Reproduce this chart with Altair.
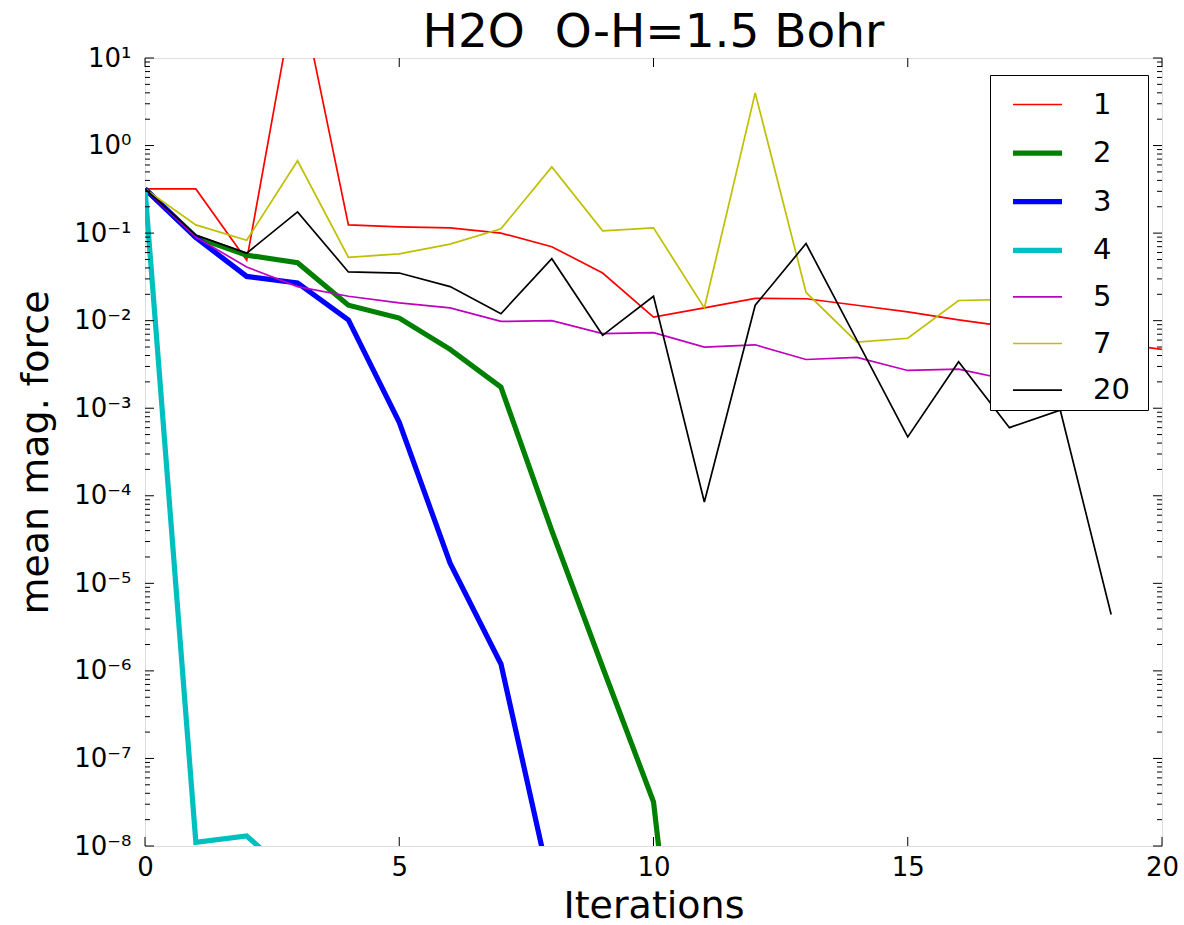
import altair as alt
import pandas as pd

# ---- data ----
runs = ["1", "2", "3", "4", "5", "7", "20"]
colors = ["#ff0000", "#008000", "#0000ff", "#00bfbf", "#bf00bf", "#bfbf00", "#000000"]
widths = [1.7, 5.2, 5.2, 5.2, 1.7, 1.7, 1.7]

s1 = [0.32, 0.32, 0.049, 80, 0.124, 0.118, 0.115, 0.10, 0.070, 0.035, 0.011,
      0.014, 0.018, 0.0178, 0.015, 0.0126, 0.0102, 0.0085, 0.0069, 0.0056, 0.0047]
s2 = [0.32, 0.09, 0.056, 0.046, 0.015, 0.0107, 0.0047, 0.00174, 4e-5, 1.1e-6,
      3.2e-8, 3e-13]
s3 = [0.32, 0.089, 0.032, 0.027, 0.0102, 6.9e-4, 1.7e-5, 1.2e-6, 3e-9]
s4 = [0.32, 1.1e-8, 1.3e-8, 4e-9]
s5 = [0.32, 0.09, 0.041, 0.0245, 0.019, 0.016, 0.014, 0.0098, 0.010, 0.0071,
      0.0073, 0.005, 0.0053, 0.0036, 0.0038, 0.0027, 0.0028, 0.0021, 0.0018]
s7 = [0.32, 0.124, 0.083, 0.67, 0.053, 0.058, 0.075, 0.112, 0.57, 0.106, 0.115,
      0.014, 4.0, 0.021, 0.0057, 0.0063, 0.017, 0.0175, 0.016]
s20 = [0.32, 0.095, 0.059, 0.175, 0.036, 0.035, 0.0245, 0.012, 0.051, 0.0068,
       0.019, 8.5e-5, 0.015, 0.076, 0.006, 4.7e-4, 0.0034, 6e-4, 9.5e-4, 4.4e-6]
series = [s1, s2, s3, s4, s5, s7, s20]

x_ticks = [0, 5, 10, 15, 20]
y_major = [1e-8, 1e-7, 1e-6, 1e-5, 1e-4, 1e-3, 1e-2, 1e-1, 1, 10]
y_labels = ["10⁻⁸", "10⁻⁷", "10⁻⁶", "10⁻⁵", "10⁻⁴", "10⁻³", "10⁻²", "10⁻¹", "10⁰", "10¹"]
y_minor = [k * 10.0 ** e for e in range(-8, 1) for k in range(2, 10)]

rows = []
for name, vals in zip(runs, series):
    for i, v in enumerate(vals):
        rows.append({"iter": i, "force": v, "run": name})
df = pd.DataFrame(rows)

W, H = 1017, 788
FONT = "DejaVu Sans"

xscale = alt.Scale(domain=[0, 20], nice=False, zero=False)
yscale = alt.Scale(type="log", domain=[1e-8, 10], nice=False)

label_expr = "[" + ",".join("'%s'" % s for s in y_labels) + "][round(log(datum.value)/LN10)+8]"

xaxis = alt.Axis(values=x_ticks, format="d", ticks=False, grid=False, domain=False,
                 labelFlush=False, labelOverlap=False,
                 labelFontSize=26, labelFont=FONT, labelColor="black", labelPadding=8,
                 title="Iterations", titleFontSize=38, titleFont=FONT,
                 titleFontWeight="normal", titleColor="black", titlePadding=7)
yaxis = alt.Axis(values=y_major, labelExpr=label_expr, ticks=False, grid=False,
                 domain=False, labelFlush=False, labelOverlap=False,
                 labelFontSize=26, labelFont=FONT, labelColor="black",
                 labelPadding=14, title="mean mag. force", titleFontSize=38,
                 titleFont=FONT, titleFontWeight="normal", titleColor="black",
                 titlePadding=18)

legend = alt.Legend(
    title="\u2800", titleOrient="right", titleFontSize=13, titlePadding=4,
    orient="none", legendX=845, legendY=17,
    symbolType="stroke", symbolSize=2401, symbolOffset=16,
    padding=4, rowPadding=5.6, labelFontSize=29, labelFont=FONT,
    labelOffset=28, labelColor="black",
    strokeColor="black", fillColor="white", cornerRadius=0,
)

lines = alt.Chart(df).mark_line(clip=True).encode(
    x=alt.X("iter:Q", scale=xscale, axis=xaxis),
    y=alt.Y("force:Q", scale=yscale, axis=yaxis),
    color=alt.Color("run:N", scale=alt.Scale(domain=runs, range=colors), legend=legend),
    strokeWidth=alt.StrokeWidth("run:N", scale=alt.Scale(type="ordinal", domain=runs, range=widths),
                                legend=legend),
    order=alt.Order("iter:Q"),
)

def yticks(vals, x0, x1):
    return alt.Chart(pd.DataFrame({"force": vals})).mark_rule(color="black", strokeWidth=1).encode(
        y=alt.Y("force:Q", scale=yscale, axis=yaxis), x=alt.value(x0), x2=alt.value(x1))

def xticks(vals, y0, y1):
    return alt.Chart(pd.DataFrame({"iter": vals})).mark_rule(color="black", strokeWidth=1).encode(
        x=alt.X("iter:Q", scale=xscale, axis=xaxis), y=alt.value(y0), y2=alt.value(y1))

chart = alt.layer(
    lines,
    yticks(y_major, 0, 9), yticks(y_minor, 0, 5),
    yticks(y_major, W, W - 9), yticks(y_minor, W, W - 5),
    xticks(x_ticks, H, H - 9), xticks(x_ticks, 0, 9),
).properties(
    width=W, height=H,
    title=alt.Title("H2O\u00a0 O-H=1.5 Bohr", fontSize=47, font=FONT, fontWeight="normal",
                    color="black", offset=-12, anchor="middle"),
    autosize=alt.AutoSizeParams(type="none"),
    padding={"left": 145, "top": 58, "right": 22, "bottom": 79},
).configure_view(stroke="black", strokeWidth=1.5).configure(background="white")

chart.save("out.html", embed_options={"renderer": "svg", "actions": False})
